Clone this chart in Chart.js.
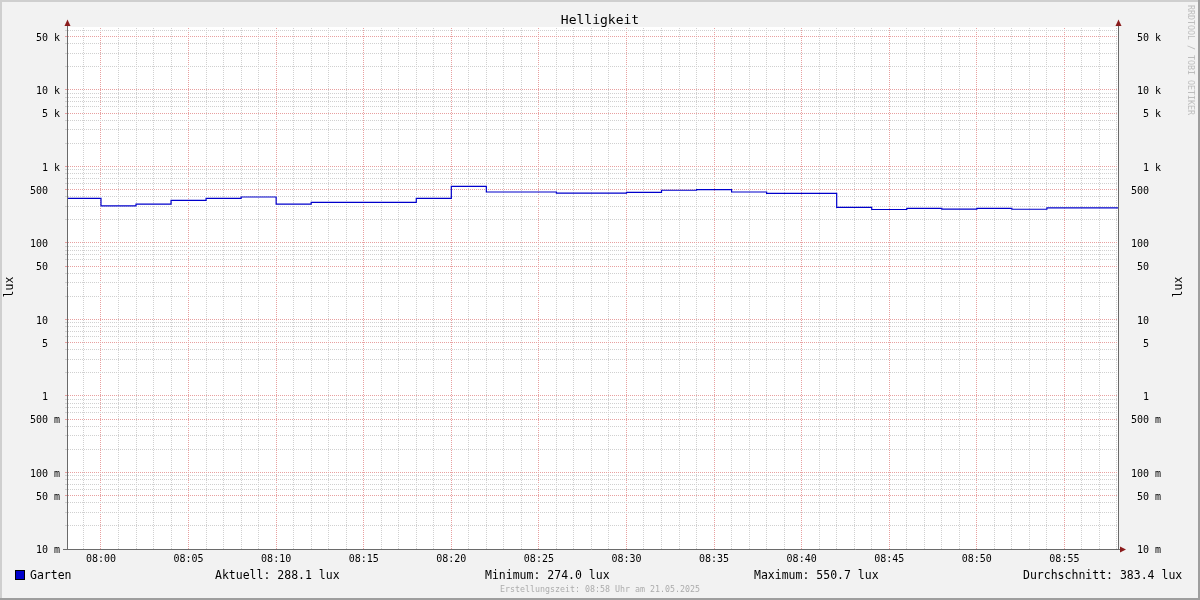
<!DOCTYPE html>
<html>
<head>
<meta charset="utf-8">
<script src="https://cdn.jsdelivr.net/npm/chart.js@4.4.1/dist/chart.umd.min.js"></script>
<style>
html, body { margin: 0; padding: 0; background: #f2f2f2; }
canvas { display: block; }
</style>
</head>
<body>
<canvas id="luxChart" width="1200" height="600"></canvas>
<script>
// start of each step, minutes relative to 08:00 (last entry = end of graph)
const stepMinutes = [-1.94, 0, 2, 4, 6, 8, 10, 12, 18, 20, 22, 26, 30, 32, 34, 36, 38, 42, 44, 46, 48, 50, 52, 54, 58.06];
const luxValues = [384, 305, 323, 361, 384, 399, 323, 340, 384, 550.7, 464, 450, 460, 489, 498, 464, 446, 293, 274, 284, 278, 284, 276, 288.1, 288.1];

const xLabelMinutes = [0, 5, 10, 15, 20, 25, 30, 35, 40, 45, 50, 55];
const xLabels = ["08:00", "08:05", "08:10", "08:15", "08:20", "08:25", "08:30", "08:35", "08:40", "08:45", "08:50", "08:55"];

const yLabelValues = [0.01, 0.05, 0.1, 0.5, 1, 5, 10, 50, 100, 500, 1000, 5000, 10000, 50000];
const yLabels = ["10 m", "50 m", "100 m", "500 m", "1", "5", "10", "50", "100", "500", "1 k", "5 k", "10 k", "50 k"];

const seriesName = "Garten";
const legendStats = ["Aktuell: 288.1 lux", "Minimum: 274.0 lux", "Maximum: 550.7 lux", "Durchschnitt: 383.4 lux"];
const titleText = "Helligkeit";
const unitText = "lux";
const footerText = "Erstellungszeit: 08:58 Uhr am 21.05.2025";
const watermarkText = "RRDTOOL / TOBI OETIKER";

const MONO = "'DejaVu Sans Mono', monospace";
const LINE_COLOR = "#0000cc";
const MINOR_GRID = "#d0d0d0";
const MAJOR_GRID = "#e8a0a0";
const ARROW_COLOR = "#8b1c1c";

// y grid ticks: every 1..9 * 10^e
const yGridTicks = [];
for (let e = -2; e <= 4; e++) {
    for (let n = 1; n <= 9; n++) {
        const v = Number((n * Math.pow(10, e)).toPrecision(6));
        if (v <= 66600) yGridTicks.push(v);
    }
}
const xGridTicks = [];
for (let m = -1; m <= 58; m++) xGridTicks.push(m);

function yMajor(v) {
    const lead = Math.round(v / Math.pow(10, Math.floor(Math.log10(v) + 1e-9)));
    return lead === 1 || lead === 5;
}
function yLabel(v) {
    const i = yLabelValues.findIndex(t => Math.abs(t - v) / t < 1e-6);
    if (i < 0) return "";
    let s = yLabels[i];
    if (s.indexOf(" ") < 0) s = s + "  ";
    return s.padStart(5, " ");
}
function xLabel(v) {
    const i = xLabelMinutes.indexOf(Math.round(v));
    return i < 0 ? "" : xLabels[i];
}

const rrdDecor = {
    id: "rrdDecor",
    beforeDraw(chart) {
        const { ctx, chartArea: a, width, height } = chart;
        ctx.save();
        ctx.fillStyle = "#f2f2f2";
        ctx.fillRect(0, 0, width, height);
        ctx.fillStyle = "#ffffff";
        ctx.fillRect(a.left, a.top, a.right - a.left, a.bottom - a.top);
        // 3d frame
        ctx.fillStyle = "#cfcfcf";
        ctx.fillRect(0, 0, width, 2);
        ctx.fillRect(0, 0, 2, height);
        ctx.fillStyle = "#9e9e9e";
        ctx.fillRect(0, height - 2, width, 2);
        ctx.fillRect(width - 2, 0, 2, height);
        ctx.restore();
    },
    afterDraw(chart) {
        const { ctx, chartArea: a } = chart;
        ctx.save();
        // axes
        ctx.strokeStyle = "#6a6a6a";
        ctx.lineWidth = 1;
        ctx.beginPath();
        ctx.moveTo(a.left + 0.5, a.bottom);
        ctx.lineTo(a.left + 0.5, 24);
        ctx.moveTo(a.right + 0.5, a.bottom);
        ctx.lineTo(a.right + 0.5, 24);
        ctx.moveTo(a.left - 4, a.bottom + 0.5);
        ctx.lineTo(a.right + 2, a.bottom + 0.5);
        ctx.stroke();
        // arrows
        ctx.fillStyle = ARROW_COLOR;
        [a.left + 0.5, a.right + 0.5].forEach(x => {
            ctx.beginPath();
            ctx.moveTo(x, 19.5);
            ctx.lineTo(x - 3, 26);
            ctx.lineTo(x + 3, 26);
            ctx.closePath();
            ctx.fill();
        });
        ctx.beginPath();
        ctx.moveTo(a.right + 8, a.bottom + 0.5);
        ctx.lineTo(a.right + 2, a.bottom - 2.5);
        ctx.lineTo(a.right + 2, a.bottom + 3.5);
        ctx.closePath();
        ctx.fill();

        // title
        ctx.fillStyle = "#000";
        ctx.textBaseline = "middle";
        ctx.textAlign = "center";
        ctx.font = "13px " + MONO;
        ctx.fillText(titleText, 600, 20.5);

        // unit labels
        ctx.font = "11.5px " + MONO;
        [10, 1179].forEach(x => {
            ctx.save();
            ctx.translate(x, 287);
            ctx.rotate(-Math.PI / 2);
            ctx.fillText(unitText, 0, 0);
            ctx.restore();
        });

        // legend
        ctx.fillStyle = LINE_COLOR;
        ctx.fillRect(15, 570, 9, 10);
        ctx.strokeStyle = "#000";
        ctx.strokeRect(15.5, 570.5, 9, 9);
        ctx.fillStyle = "#000";
        ctx.textAlign = "left";
        ctx.fillText(seriesName, 30, 576.5);
        const statX = [215, 485, 754, 1023];
        legendStats.forEach((s, i) => ctx.fillText(s, statX[i], 576.5));

        // footer
        ctx.fillStyle = "#acacac";
        ctx.font = "8.3px " + MONO;
        ctx.textAlign = "center";
        ctx.fillText(footerText, 600, 589.5);

        // watermark
        ctx.fillStyle = "#bdbdbd";
        ctx.save();
        ctx.translate(1190, 5);
        ctx.rotate(Math.PI / 2);
        ctx.textAlign = "left";
        ctx.fillText(watermarkText, 0, 0);
        ctx.restore();
        ctx.restore();
    }
};

const ctx = document.getElementById("luxChart").getContext("2d");

new Chart(ctx, {
    type: "line",
    data: {
        datasets: [{
            label: seriesName,
            data: stepMinutes.map((m, i) => ({ x: m, y: luxValues[i] })),
            borderColor: LINE_COLOR,
            borderWidth: 1.2,
            stepped: true,
            pointRadius: 0,
            fill: false,
            yAxisID: "y"
        }]
    },
    plugins: [rrdDecor],
    options: {
        responsive: false,
        animation: false,
        layout: { padding: { top: 27, left: 0, right: 0, bottom: 0 } },
        plugins: {
            legend: { display: false },
            title: { display: false },
            tooltip: { enabled: false }
        },
        scales: {
            x: {
                type: "linear",
                bounds: "data",
                min: -1.94,
                max: 58.06,
                afterBuildTicks: s => { s.ticks = xGridTicks.map(v => ({ value: v })); },
                afterFit: s => { s.height = 51; },
                grid: {
                    color: c => (c.tick && Math.round(c.tick.value) % 5 === 0) ? MAJOR_GRID : MINOR_GRID,
                    lineWidth: 1,
                    tickLength: 0,
                    drawTicks: true
                },
                border: { display: false, dash: [1, 1], dashOffset: 1 },
                ticks: {
                    autoSkip: false,
                    maxRotation: 0,
                    minRotation: 0,
                    padding: 4,
                    color: "#000",
                    font: { family: MONO, size: 10 },
                    callback: v => xLabel(v)
                }
            },
            y: {
                type: "logarithmic",
                position: "left",
                bounds: "data",
                min: 0.01,
                max: 66600,
                afterBuildTicks: s => { s.ticks = yGridTicks.map(v => ({ value: v })); },
                afterFit: s => { s.width = 67; },
                grid: {
                    color: c => (c.tick && yMajor(c.tick.value)) ? MAJOR_GRID : MINOR_GRID,
                    lineWidth: 1,
                    tickLength: 2,
                    drawTicks: true
                },
                border: { display: false, dash: [1, 1], dashOffset: 1 },
                ticks: {
                    autoSkip: false,
                    padding: 5,
                    labelOffset: 1.5,
                    color: "#000",
                    font: { family: MONO, size: 10 },
                    callback: v => yLabel(v)
                }
            },
            y2: {
                type: "logarithmic",
                position: "right",
                bounds: "data",
                min: 0.01,
                max: 66600,
                afterBuildTicks: s => { s.ticks = yGridTicks.map(v => ({ value: v })); },
                afterFit: s => { s.width = 82; },
                grid: { display: false, drawOnChartArea: false },
                border: { display: false },
                ticks: {
                    autoSkip: false,
                    padding: 5,
                    labelOffset: 1.5,
                    color: "#000",
                    font: { family: MONO, size: 10 },
                    callback: v => yLabel(v)
                }
            }
        }
    }
});
</script>
</body>
</html>
